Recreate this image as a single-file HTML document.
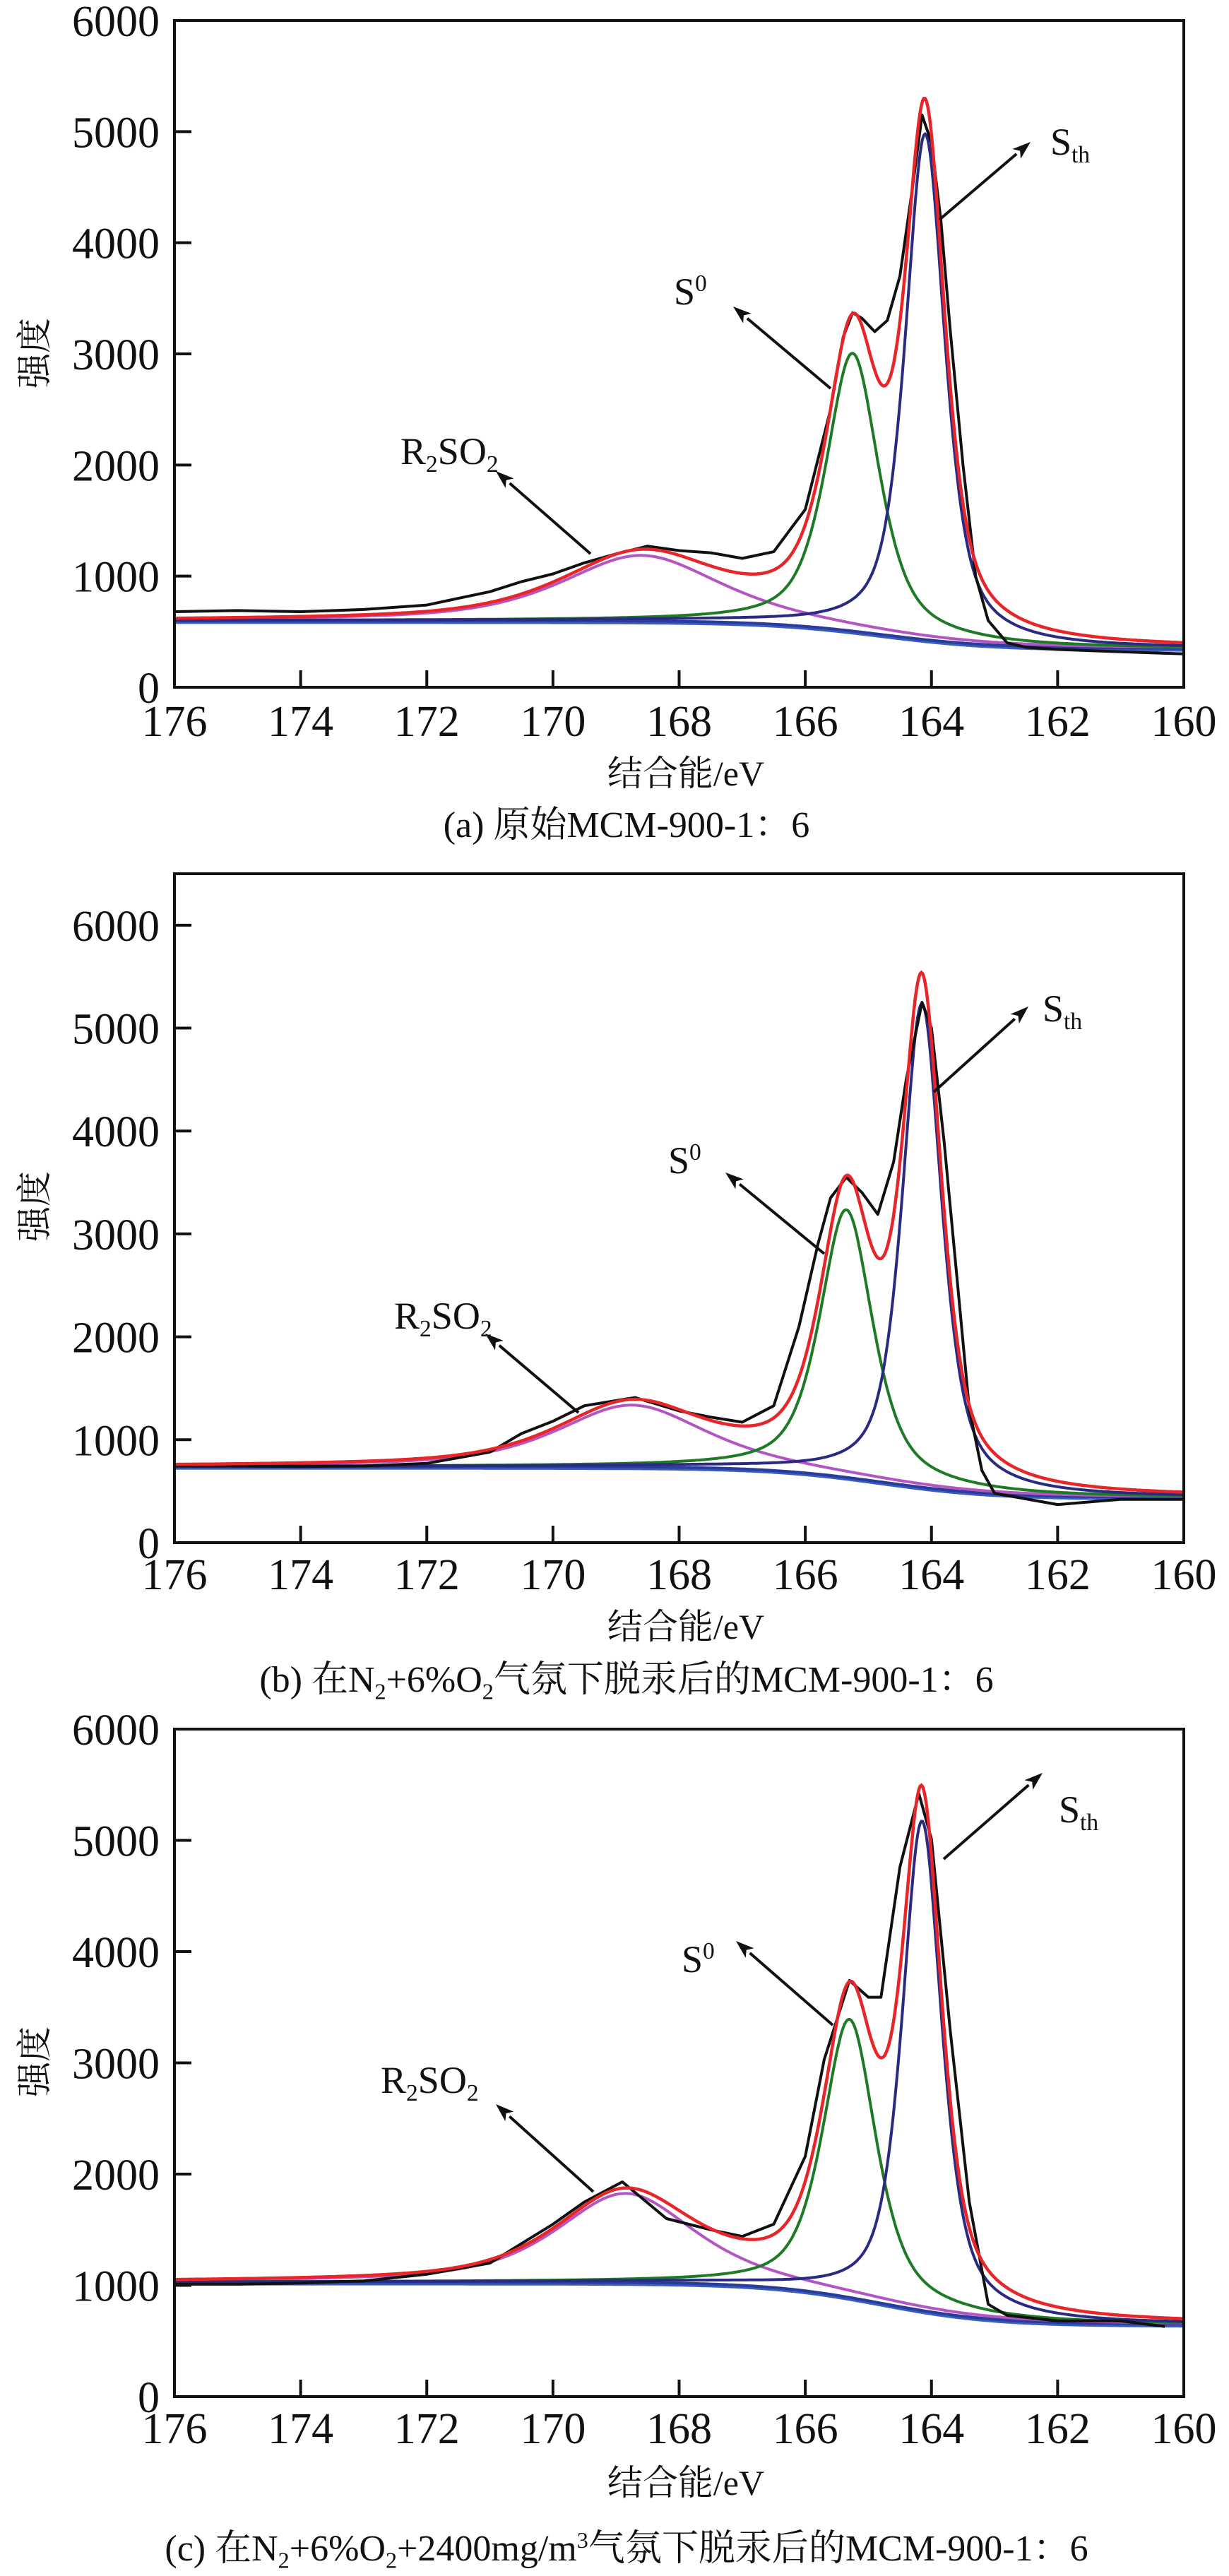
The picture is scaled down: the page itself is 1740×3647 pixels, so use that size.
<!DOCTYPE html>
<html><head><meta charset="utf-8">
<style>
html,body{margin:0;padding:0;background:#fff;}
svg{display:block;}
text{font-family:"Liberation Serif","Noto Serif CJK SC",serif;fill:#111;}
</style></head>
<body>
<svg id="fig" width="1740" height="3647" viewBox="0 0 1740 3647" xmlns="http://www.w3.org/2000/svg"></svg>
<script>
// ---- data ----
const xTicks = [176,174,172,170,168,166,164,162,160];
const panelNames = ['a','b','c'];
const yMaxes = [6000,6500,6000];
const yTickSets = [[0,1000,2000,3000,4000,5000,6000],[0,1000,2000,3000,4000,5000,6000],[0,1000,2000,3000,4000,5000,6000]];
// caption segments: [text, mode] mode n=normal, b=subscript, p=superscript
const captions = [
 [['(a) 原始MCM-900-1：6','n']],
 [['(b) 在N','n'],['2','b'],['+6%O','n'],['2','b'],['气氛下脱汞后的MCM-900-1：6','n']],
 [['(c) 在N','n'],['2','b'],['+6%O','n'],['2','b'],['+2400mg/m','n'],['3','p'],['气氛下脱汞后的MCM-900-1：6','n']]
];
// baseline (high-BE side, low-BE side)
const baseHigh = [600,740,1030];
const baseLow  = [350,440,650];
// components: R2SO2, S0, Sth  (center eV, height, FWHM)
const r2Center=[168.6,168.75,168.85], r2Height=[590,600,800], r2Width=[3.0,2.8,2.6];
const s0Center=[165.25,165.35,165.3], s0Height=[2500,2600,2500], s0Width=[1.0,1.0,1.0];
const sthCenter=[164.1,164.15,164.15], sthHeight=[4550,4700,4400], sthWidth=[0.75,0.75,0.75];
// raw (black) spectrum samples
const rawX = [
 [176,175,174,173,172,171.5,171,170.5,170,169.5,169,168.5,168,167.5,167,166.5,166.2,166,165.8,165.6,165.4,165.25,165.1,164.9,164.7,164.5,164.3,164.15,164.0,163.85,163.7,163.5,163.3,163.1,162.8,162.5,162,161,160],
 [176,175,174,173,172,171,170.5,170,169.5,168.7,168,167.5,167,166.5,166.1,165.8,165.6,165.35,165.1,164.85,164.6,164.4,164.15,164.0,163.8,163.6,163.4,163.2,163,162,161,160],
 [176,175,174,173,172,171,170,169.5,168.9,168.2,167.5,167,166.5,166,165.7,165.3,165.0,164.8,164.5,164.2,164.0,163.7,163.4,163.1,162.8,162,161,160.3]
];
const rawY = [
 [680,690,680,700,740,800,860,950,1020,1120,1200,1270,1230,1210,1160,1220,1450,1600,2050,2500,3150,3370,3320,3200,3300,3700,4500,5150,4900,4200,3200,2000,1000,600,400,360,340,320,300],
 [745,745,740,745,770,880,1060,1180,1330,1410,1280,1220,1170,1330,2100,2900,3350,3550,3400,3190,3700,4500,5250,5000,3900,2600,1300,700,480,370,420,420],
 [1010,1010,1020,1040,1100,1200,1550,1750,1930,1600,1500,1440,1550,2160,3030,3740,3590,3590,4760,5420,5010,3280,1750,830,730,680,680,630]
];
// ---- layout ----
const L=247, R=1676;
const tops=[29,1237,2448], bottoms=[973,2184,3393];
const tickLabelY=[1042,2250,3459], xLabelY=[1112,2320,3532], capY=[1185,2395,3625], yLabelC=[500,1708,2919];
const ann = [
 {r2:[567,657], r2a:[836,784,702,667], s0:[954,431], s0a:[1176,550,1038,434], st:[1487,219], sta:[1330,311,1459,201]},
 {r2:[558,1881], r2a:[819,2000,687,1888], s0:[946,1661], s0a:[1167,1775,1027,1660], st:[1476,1446], sta:[1322,1546,1456,1425]},
 {r2:[539,2963], r2a:[840,3103,702,2979], s0:[965,2792], s0a:[1179,2867,1042,2748], st:[1499,2580], sta:[1336,2632,1476,2510]}
];
const NS='http://www.w3.org/2000/svg';
const svg=document.getElementById('fig');
function mk(tag,attrs,parent){const e=document.createElementNS(NS,tag);for(const k in attrs)e.setAttribute(k,attrs[k]);(parent||svg).appendChild(e);return e;}
function gl(x,c,h,w){const d=x-c;const L1=1/(1+Math.pow(2*d/w,2));const G=Math.exp(-4*Math.LN2*d*d/(w*w));return h*(0.65*L1+0.35*G);}
function richText(parent,x,y,size,segs,anchor){
  const t=mk('text',{x:x,y:y,'font-size':size,'text-anchor':anchor||'start'},parent);
  let shift=0;
  segs.forEach(([s,m])=>{
    const target = m==='b'? size*0.2 : m==='p'? -size*0.35 : 0;
    const sp=mk('tspan',{dy:(target-shift).toFixed(1)},t);
    if(m!=='n') sp.setAttribute('font-size',(size*0.62).toFixed(1));
    sp.textContent=s; shift=target;
  });
  return t;
}
for(let p=0;p<3;p++){
  const top=tops[p],bot=bottoms[p],ymax=yMaxes[p];
  const g=mk('g',{});
  
  
  const sx=v=>L+(176-v)/16*(R-L);
  const sy=v=>bot-v/ymax*(bot-top);
  const base=x=>baseLow[p]+(baseHigh[p]-baseLow[p])/(1+Math.exp(-(x-164.8)/0.9));
  const fR=x=>gl(x,r2Center[p],r2Height[p],r2Width[p]);
  const fS=x=>gl(x,s0Center[p],s0Height[p],s0Width[p]);
  const fT=x=>gl(x,sthCenter[p],sthHeight[p],sthWidth[p]);
  function curve(fn,color,name,w){let d='';for(let i=0;i<=800;i++){const x=176-i*0.02;let y=Math.min(fn(x),ymax);d+=(i?'L':'M')+sx(x).toFixed(1)+','+sy(y).toFixed(1);}const e=mk('path',{d:d,fill:'none',stroke:color,'stroke-width':w||4},g);}
  curve(x=>base(x)-18,'#3a5cc0','baseline-lower',4);
  curve(x=>base(x),'#2a3c9a','baseline',4);
  curve(x=>base(x)+fR(x),'#b455c4','r2so2-component');
  curve(x=>base(x)+fS(x),'#1e7a24','s0-component');
  curve(x=>base(x)+fT(x),'#2a2a82','sth-component');
  let d='';rawX[p].forEach((x,i)=>{d+=(i?'L':'M')+sx(x).toFixed(1)+','+sy(rawY[p][i]).toFixed(1);});
  const raw=mk('path',{d:d,fill:'none',stroke:'#111','stroke-width':4,'stroke-linejoin':'round'},g);
  
  
  curve(x=>base(x)+fR(x)+fS(x)+fT(x),'#e8262a','fit-envelope',4.5);
  const fr=mk('rect',{x:L,y:top,width:R-L,height:bot-top,fill:'none',stroke:'#111','stroke-width':4},g);
  
  
  xTicks.forEach(v=>{
    const t=mk('line',{x1:sx(v),x2:sx(v),y1:bot,y2:bot-24,stroke:'#111','stroke-width':4},g);
    
    
    const tl=mk('text',{x:sx(v),y:tickLabelY[p],'text-anchor':'middle','font-size':62},g);
    tl.textContent=v;
    
    
  });
  yTickSets[p].forEach(v=>{
    const t=mk('line',{x1:L,x2:L+24,y1:sy(v),y2:sy(v),stroke:'#111','stroke-width':4},g);
    
    
    const tl=mk('text',{x:226,y:sy(v)+22,'text-anchor':'end','font-size':62},g);
    tl.textContent=v;
    
    
  });
  const xl=mk('text',{x:971,y:xLabelY[p],'text-anchor':'middle','font-size':50},g);
  xl.textContent='结合能/eV';
  
  
  const yl=mk('text',{x:0,y:0,'text-anchor':'middle','font-size':50,transform:'translate(66,'+yLabelC[p]+') rotate(-90)'},g);
  yl.textContent='强度';
  
  
  const cap=richText(g,887,capY[p],52,captions[p],'middle');
  
  
  const a=ann[p];
  const r2=richText(g,a.r2[0],a.r2[1],54,[['R','n'],['2','b'],['SO','n'],['2','b']]);
  
  
  const s0=richText(g,a.s0[0],a.s0[1],54,[['S','n'],['0','p']]);
  
  
  const st=richText(g,a.st[0],a.st[1],54,[['S','n'],['th','b']]);
  
  
  [['r2a','r2so2-arrow'],['s0a','s0-arrow'],['sta','sth-arrow']].forEach(([k,n])=>{
    const c=a[k];
    const ang=Math.atan2(c[3]-c[1],c[2]-c[0]);
    const hl=26, hw=9;
    const bx=c[2]-hl*Math.cos(ang), by=c[3]-hl*Math.sin(ang);
    const ar=mk('line',{x1:c[0],y1:c[1],x2:bx,y2:by,stroke:'#111','stroke-width':4},g);
    
    
    const px=-Math.sin(ang)*hw, py=Math.cos(ang)*hw;
    const nx=c[2]-(hl*0.7)*Math.cos(ang), ny=c[3]-(hl*0.7)*Math.sin(ang);
    const hd=mk('polygon',{points:`${c[2]},${c[3]} ${bx+px},${by+py} ${nx+(c[2]-bx)*0.05},${ny} ${bx-px},${by-py}`,fill:'#111'},g);
    hd.setAttribute('points',`${c[2]},${c[3]} ${bx+px},${by+py} ${(bx+c[2]*0.0+nx)/2*0+ (bx+ (c[2]-bx)*0.25)},${by+(c[3]-by)*0.25} ${bx-px},${by-py}`);
    
    
  });
}
</script>
</body></html>
